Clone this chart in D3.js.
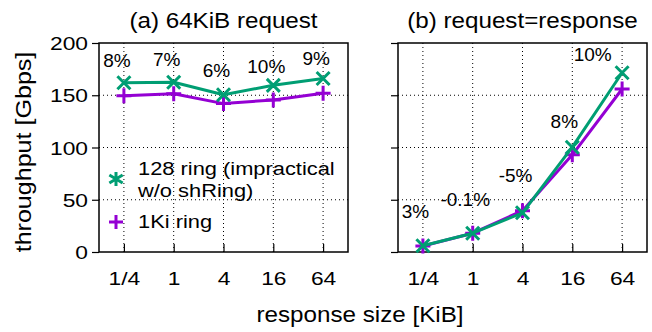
<!DOCTYPE html>
<html>
<head>
<meta charset="utf-8">
<script src="https://cdn.jsdelivr.net/npm/d3@7/dist/d3.min.js"></script>
<style>
  html, body { margin: 0; padding: 0; background: #fff; }
  svg { display: block; font-family: "Liberation Sans", Arial, Helvetica, sans-serif; }
</style>
</head>
<body>
<svg id="chart" width="652" height="332"></svg>
<script>
// Response sizes (KiB) on the x axis
const categories = ["1/4", "1", "4", "16", "64"];
const yTicks = [0, 50, 100, 150, 200];

// (a) 64KiB request: throughput in Gbps
const ring128A = [162, 162.5, 150.5, 159.5, 166];
const ring1KiA = [149.5, 151.5, 142, 145.5, 152];

// (b) request=response: throughput in Gbps
const ring128B = [6, 18, 37.5, 100.3, 171.5];
const ring1KiB = [5.8, 18, 39.5, 93, 156];

// Relative gain of 128 ring over 1Ki ring
const gainA = ["8%", "7%", "6%", "10%", "9%"];
const gainB = ["3%", "-0.1%", "-5%", "8%", "10%"];

// Where each gain label sits, in data coordinates (category index, Gbps)
const gainAtA_x = [-0.14, 0.86, 1.86, 2.86, 3.86];
const gainAtA_y = [177, 178, 167.5, 171.3, 179];
const gainAtB_x = [-0.15, 0.85, 1.86, 2.84, 3.41];
const gainAtB_y = [32.5, 44, 67, 118.7, 182.8];

const seriesNames = ["128 ring (impractical", "w/o shRing)", "1Ki ring"];

const GREEN = "#009e73";
const PURPLE = "#9400d3";

(function draw() {
  const svg = d3.select("#chart");

  const plotTop = 43, plotBottom = 252;
  const panels = [
    { left: 99, right: 348, title: "(a) 64KiB request", a: ring128A, b: ring1KiA,
      gain: gainA, gx: gainAtA_x, gy: gainAtA_y, yLabels: true },
    { left: 398, right: 647, title: "(b) request=response", a: ring128B, b: ring1KiB,
      gain: gainB, gx: gainAtB_x, gy: gainAtB_y, yLabels: false }
  ];

  const y = d3.scaleLinear().domain([0, 200]).range([plotBottom, plotTop]);

  const crossPath = s => `M${-s},${-s}L${s},${s}M${-s},${s}L${s},${-s}`;
  const plusPath = s => `M${-s},0L${s},0M0,${-s}L0,${s}`;
  const starPath = s => {
    const d = s * 0.95;
    return `M${-d},${-d * 0.6}L${d},${d * 0.6}M${-d},${d * 0.6}L${d},${-d * 0.6}M0,${-s}L0,${s}`;
  };

  panels.forEach(p => {
    const x = d3.scaleLinear().domain([-0.5, categories.length - 0.5]).range([p.left, p.right]);
    const g = svg.append("g");
    const idx = d3.range(categories.length);

    // dotted grid
    g.append("g").selectAll("line").data(idx).join("line")
      .attr("x1", d => x(d)).attr("x2", d => x(d))
      .attr("y1", plotBottom).attr("y2", plotTop)
      .attr("stroke", "#000").attr("stroke-width", 1).attr("stroke-dasharray", "1,3");
    g.append("g").selectAll("line").data(yTicks.slice(1, -1)).join("line")
      .attr("x1", p.left).attr("x2", p.right)
      .attr("y1", d => y(d)).attr("y2", d => y(d))
      .attr("stroke", "#000").attr("stroke-width", 1).attr("stroke-dasharray", "1,3");

    // x axis (ticks point inward)
    const xAxis = d3.axisBottom(x).tickValues(idx).tickFormat(i => categories[i])
      .tickSizeInner(-8).tickSizeOuter(0);
    const xg = g.append("g").attr("transform", `translate(0,${plotBottom})`).call(xAxis);
    xg.select(".domain").remove();
    xg.selectAll(".tick line").attr("stroke", "#000").attr("stroke-width", 1.2);
    xg.selectAll(".tick text")
      .attr("y", 0).attr("dy", null)
      .attr("transform", "translate(0,33) scale(1.2,1)")
      .style("font-size", "19px").style("font-family", "Liberation Sans, Arial, sans-serif")
      .attr("fill", "#000");

    // y axis (ticks point outward)
    const yAxis = d3.axisLeft(y).tickValues(yTicks).tickSizeInner(7).tickSizeOuter(0)
      .tickFormat(p.yLabels ? d3.format("d") : () => "");
    const yg = g.append("g").attr("transform", `translate(${p.left},0)`).call(yAxis);
    yg.select(".domain").remove();
    yg.selectAll(".tick line").attr("stroke", "#000").attr("stroke-width", 1.2);
    yg.selectAll(".tick text")
      .attr("x", 0).attr("dy", null).attr("y", 0)
      .attr("transform", "translate(-11,6.7) scale(1.2,1)")
      .style("font-size", "19px").style("font-family", "Liberation Sans, Arial, sans-serif")
      .attr("fill", "#000");

    // frame
    g.append("rect")
      .attr("x", p.left).attr("y", plotTop)
      .attr("width", p.right - p.left).attr("height", plotBottom - plotTop)
      .attr("fill", "none").attr("stroke", "#000").attr("stroke-width", 1.5);

    // title
    g.append("text")
      .attr("transform", `translate(${(p.left + p.right) / 2},28) scale(1.1,1)`)
      .attr("text-anchor", "middle")
      .style("font-size", "22px").attr("fill", "#000")
      .text(p.title);

    // series: 1Ki ring first, 128 ring drawn on top
    const line = d3.line().x((d, i) => x(i)).y(d => y(d));
    g.append("path").datum(p.b).attr("d", line)
      .attr("fill", "none").attr("stroke", PURPLE).attr("stroke-width", 3)
      .attr("stroke-linejoin", "round");
    g.append("g").selectAll("path").data(p.b).join("path")
      .attr("transform", (d, i) => `translate(${x(i)},${y(d)})`)
      .attr("d", plusPath(7.5))
      .attr("stroke", PURPLE).attr("stroke-width", 3).attr("fill", "none");

    g.append("path").datum(p.a).attr("d", line)
      .attr("fill", "none").attr("stroke", GREEN).attr("stroke-width", 3)
      .attr("stroke-linejoin", "round");
    g.append("g").selectAll("path").data(p.a).join("path")
      .attr("transform", (d, i) => `translate(${x(i)},${y(d)})`)
      .attr("d", crossPath(6.5))
      .attr("stroke", GREEN).attr("stroke-width", 3).attr("fill", "none");

    // gain labels
    g.append("g").selectAll("text").data(p.gain).join("text")
      .attr("x", (d, i) => x(p.gx[i]))
      .attr("y", (d, i) => y(p.gy[i]))
      .attr("text-anchor", "middle")
      .style("font-size", "19px").attr("fill", "#000")
      .text(d => d);
  });

  // legend inside panel (a)
  const leg = svg.append("g");
  leg.append("path").attr("transform", "translate(116,179)")
    .attr("d", starPath(7)).attr("stroke", GREEN).attr("stroke-width", 3).attr("fill", "none");
  leg.append("path").attr("transform", "translate(116,222)")
    .attr("d", plusPath(7)).attr("stroke", PURPLE).attr("stroke-width", 3).attr("fill", "none");
  [[seriesNames[0], 175], [seriesNames[1], 197], [seriesNames[2], 228]].forEach(([t, by]) => {
    leg.append("text")
      .attr("transform", `translate(138,${by}) scale(1.15,1)`)
      .style("font-size", "19px").attr("fill", "#000")
      .text(t);
  });

  // axis titles
  svg.append("text")
    .attr("transform", "translate(360,322) scale(1.1,1)")
    .attr("text-anchor", "middle")
    .style("font-size", "22px").attr("fill", "#000")
    .text("response size [KiB]");
  svg.append("text")
    .attr("transform", "translate(31,152) rotate(-90) scale(1.14,1)")
    .attr("text-anchor", "middle")
    .style("font-size", "22px").attr("fill", "#000")
    .text("throughput [Gbps]");
})();
</script>
</body>
</html>
